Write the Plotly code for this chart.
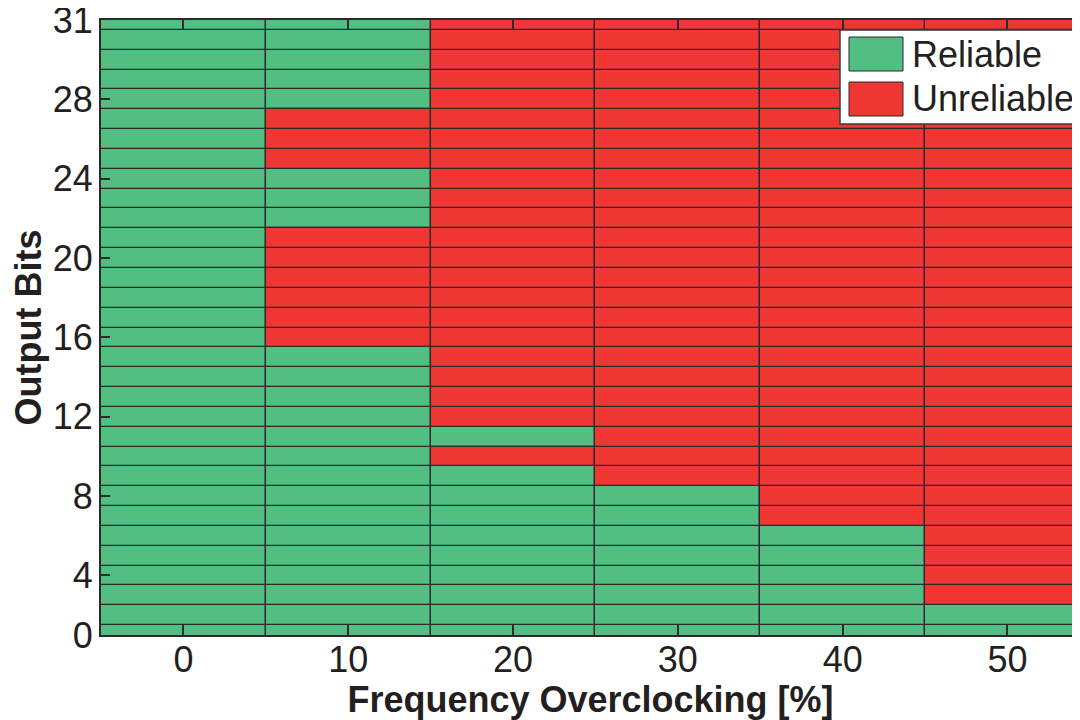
import plotly.graph_objects as go

# ---------------- data ----------------
overclock = [0, 10, 20, 30, 40, 50]          # frequency overclocking [%]
row_pos = list(range(1, 33))                  # output-bit rows, bottom to top
ytick_vals = [1, 4, 8, 12, 16, 20, 24, 28, 32]
ytick_text = ["0", "4", "8", "12", "16", "20", "24", "28", "31"]

# 1 = reliable, 0 = unreliable (bottom row first)
oc_0 = [1, 1, 1, 1, 1, 1, 1, 1, 1, 1, 1, 1, 1, 1, 1, 1,
        1, 1, 1, 1, 1, 1, 1, 1, 1, 1, 1, 1, 1, 1, 1, 1]
oc_10 = [1, 1, 1, 1, 1, 1, 1, 1, 1, 1, 1, 1, 1, 1, 1, 0,
         0, 0, 0, 0, 0, 1, 1, 1, 0, 0, 0, 1, 1, 1, 1, 1]
oc_20 = [1, 1, 1, 1, 1, 1, 1, 1, 1, 0, 1, 0, 0, 0, 0, 0,
         0, 0, 0, 0, 0, 0, 0, 0, 0, 0, 0, 0, 0, 0, 0, 0]
oc_30 = [1, 1, 1, 1, 1, 1, 1, 1, 0, 0, 0, 0, 0, 0, 0, 0,
         0, 0, 0, 0, 0, 0, 0, 0, 0, 0, 0, 0, 0, 0, 0, 0]
oc_40 = [1, 1, 1, 1, 1, 1, 0, 0, 0, 0, 0, 0, 0, 0, 0, 0,
         0, 0, 0, 0, 0, 0, 0, 0, 0, 0, 0, 0, 0, 0, 0, 0]
oc_50 = [1, 1, 0, 0, 0, 0, 0, 0, 0, 0, 0, 0, 0, 0, 0, 0,
         0, 0, 0, 0, 0, 0, 0, 0, 0, 0, 0, 0, 0, 0, 0, 0]
status_by_col = [oc_0, oc_10, oc_20, oc_30, oc_40, oc_50]

series_names = ["Reliable", "Unreliable"]
series_codes = [1, 0]
series_colors = ["#51be82", "#ee3633"]

# ---------------- style ----------------
FONT = "Liberation Sans, Arial, Helvetica, sans-serif"
TXT = "#231f20"
EDGE = "#2b2b2b"

OFF = 8                       # page offset of the plot div (body margin)
W, H = 1072, 712              # div fits the 1080x720 window with the margin
L, R, T, B = 93, 0, 12, 85
PW, PH = W - L - R, H - T - B


def px_x(p):
    return (p - OFF - L) / PW


def px_y(p):
    return (H - B - (p - OFF)) / PH


fig = go.Figure()
for name, code, color in zip(series_names, series_codes, series_colors):
    xs, bases, hs = [], [], []
    for xv, col in zip(overclock, status_by_col):
        for r, s in zip(row_pos, col):
            if s == code:
                xs.append(xv)
                bases.append(r - 0.5)
                hs.append(1)
    fig.add_trace(go.Bar(
        x=xs, y=hs, base=bases, width=10, name=name,
        marker=dict(color=color, line=dict(color=EDGE, width=1.3)),
        showlegend=False,
    ))

fig.update_layout(
    width=W, height=H,
    margin=dict(l=L, r=R, t=T, b=B, autoexpand=False),
    paper_bgcolor="white", plot_bgcolor="white",
    barmode="overlay", bargap=0,
    font=dict(family=FONT, color=TXT, size=36),
)
fig.update_xaxes(
    range=[-5, 54.4], tickvals=overclock, ticktext=[str(v) for v in overclock],
    ticks="inside", ticklen=10, tickwidth=1.5, tickcolor=EDGE,
    showline=True, linewidth=2, linecolor=EDGE, mirror="ticks",
    showgrid=False, zeroline=False, automargin=False,
    ticklabelstandoff=-8, ticklabeloverflow="allow",
    tickfont=dict(size=36, family=FONT, color=TXT),
    title=dict(text="Frequency Overclocking [%]", standoff=4,
               font=dict(size=36, family=FONT, color=TXT, weight="bold")),
)
fig.update_yaxes(
    range=[0.999, 32.001], tickvals=ytick_vals, ticktext=ytick_text,
    ticks="inside", ticklen=9, tickwidth=1.5, tickcolor=EDGE,
    showline=True, linewidth=2, linecolor=EDGE,
    showgrid=False, zeroline=False, automargin=False,
    ticklabelstandoff=-1, ticklabeloverflow="allow",
    tickfont=dict(size=36, family=FONT, color=TXT),
    title=dict(text="Output Bits", standoff=10,
               font=dict(size=36, family=FONT, color=TXT, weight="bold")),
)

# legend box (custom, with wide swatches like the original)
fig.add_shape(type="rect", xref="paper", yref="paper",
              x0=px_x(840), x1=px_x(1095), y0=px_y(124), y1=px_y(30),
              fillcolor="white", line=dict(color="#3a3a3a", width=1.5))
sw_top = [37, 82]
for name, color, top in zip(series_names, series_colors, sw_top):
    fig.add_shape(type="rect", xref="paper", yref="paper",
                  x0=px_x(849), x1=px_x(903), y0=px_y(top + 34), y1=px_y(top),
                  fillcolor=color, line=dict(color="#2b2b2b", width=1))
    fig.add_annotation(xref="paper", yref="paper", x=px_x(910), y=px_y(top + 17),
                       text=name, showarrow=False, xanchor="left", yanchor="middle",
                       font=dict(size=36, family=FONT, color=TXT))

fig.write_html("out.html")
